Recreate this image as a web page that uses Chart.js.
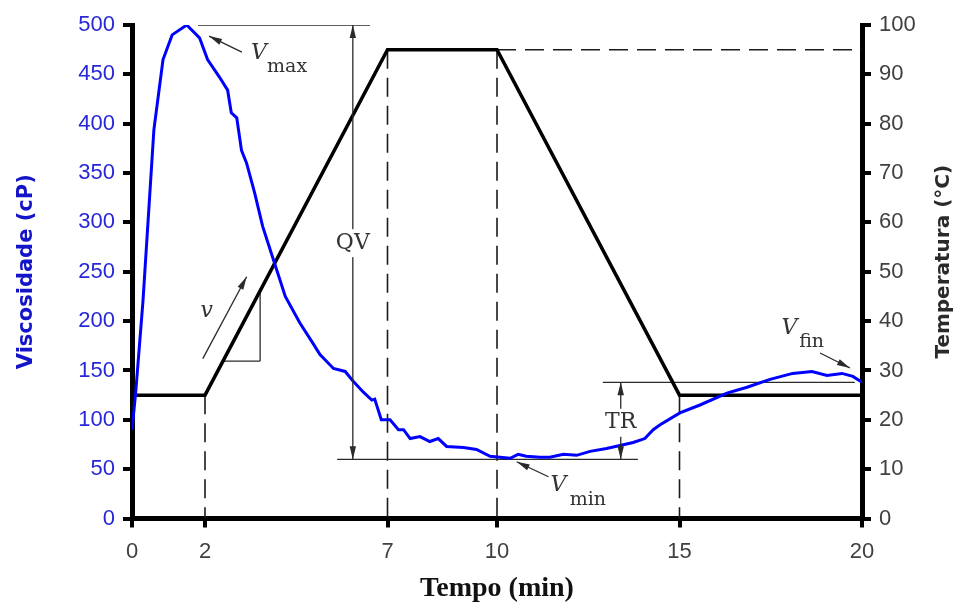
<!DOCTYPE html>
<html>
<head>
<meta charset="utf-8">
<script src="https://cdn.jsdelivr.net/npm/chart.js"></script>
<style>
html,body{margin:0;padding:0;background:#fff;}
canvas{display:block;}
</style>
</head>
<body>
<canvas id="grafico" width="962" height="606"></canvas>
<script>
// curva de viscosidade (cP)
const tempo = [0,0.1,0.3,0.6,0.85,1.1,1.5,1.85,2.07,2.4,2.62,2.72,2.87,3.0,3.14,3.36,3.58,3.85,4.2,4.6,4.95,5.15,5.52,5.84,6.06,6.34,6.57,6.65,6.83,7.07,7.3,7.44,7.62,7.89,8.16,8.39,8.62,9.08,9.44,9.81,10.08,10.36,10.58,10.8,11.18,11.45,11.82,12.18,12.55,13.0,13.37,13.73,14.05,14.28,14.47,15.01,15.56,16.3,16.85,17.48,18.1,18.63,19.04,19.45,19.75,20];
const viscosidade = [90,127,220,394,465,490,500,487,465,447,434,411,406,373,360,330,296,265,225,198,178,166,152,149,139,128,120,121,100,100,90,90,81,83,78,81,73,72,70,63,62,61,65,63,62,62,65,64,68,71,74,77,81,90,95,107,115,127,133,141,147,149,145,147,144,138];

// perfil de temperatura (C)
const tempoPerfil = [0,2,7,10,15,20];
const temperatura = [25,25,95,95,25,25];

const ticksTempo = [0,2,7,10,15,20];
const tituloTemp = 'Temperatura (°C)';

// linhas de referencia [x1,y1,x2,y2] em cP
const linhasFinas = [
  [1.81,500,6.52,500],
  [5.62,60,13.86,60],
  [12.9,138,19.8,138],
  [2.49,159.5,3.51,159.5],
  [3.51,159.5,3.51,230]
];
// linhas tracejadas [x1,y1,x2,y2] em C
const linhasTracejadas = [
  [2,25,2,0],
  [7,95,7,0],
  [10,95,10,0],
  [15,25,15,0],
  [10,95,20,95]
];
// setas simples [x0,y0,x1,y1], ponta em x1,y1
const setas = [
  [3.01,472.5,2.11,488.8],
  [11.41,42.3,10.54,57.5],
  [18.85,167.7,19.67,152.5],
  [1.94,162,3.14,245]
];
// setas duplas [x, yTopo, yBase]
const setasDuplas = [
  [6.05,500,60],
  [13.39,138,60]
];
const rotulos = [['QV',6.05,279],['TR',13.39,97]];
const rotulosV = [['max',3.48,471,4.25,457],['min',11.68,34,12.49,19],['fin',18.01,192.5,18.62,179]];
const rotuloVel = ['v',2.05,209.5];

function ponta(ctx,x0,y0,x1,y1){
  const a=Math.atan2(y1-y0,x1-x0), L=13, w=3.2;
  ctx.beginPath();
  ctx.moveTo(x1,y1);
  ctx.lineTo(x1-L*Math.cos(a)+w*Math.sin(a), y1-L*Math.sin(a)-w*Math.cos(a));
  ctx.lineTo(x1-L*Math.cos(a)-w*Math.sin(a), y1-L*Math.sin(a)+w*Math.cos(a));
  ctx.closePath();
  ctx.fill();
}

const anotacoes = {
  id:'anotacoes',
  afterDatasetsDraw(chart){
    const ctx=chart.ctx, sx=chart.scales.x, sy=chart.scales.y;
    const px=v=>sx.getPixelForValue(v), py=v=>sy.getPixelForValue(v);
    ctx.save();
    ctx.strokeStyle='#2a2a2a'; ctx.fillStyle='#2a2a2a'; ctx.lineWidth=1.3;
    setas.forEach(s=>{
      const x0=px(s[0]),y0=py(s[1]),x1=px(s[2]),y1=py(s[3]);
      ctx.beginPath(); ctx.moveTo(x0,y0); ctx.lineTo(x1,y1); ctx.stroke();
      ponta(ctx,x0,y0,x1,y1);
    });
    setasDuplas.forEach(s=>{
      const x=px(s[0]),y0=py(s[1]),y1=py(s[2]);
      ctx.beginPath(); ctx.moveTo(x,y0); ctx.lineTo(x,y1); ctx.stroke();
      ponta(ctx,x,y1,x,y0); ponta(ctx,x,y0,x,y1);
    });
    ctx.textAlign='center'; ctx.textBaseline='middle';
    ctx.font='22px "DejaVu Serif"';
    rotulos.forEach(r=>{
      const w=ctx.measureText(r[0]).width;
      ctx.fillStyle='#fff';
      ctx.fillRect(px(r[1])-w/2-2,py(r[2])-14,w+4,28);
      ctx.fillStyle='#333';
      ctx.fillText(r[0],px(r[1]),py(r[2]));
    });
    ctx.fillStyle='#333';
    rotulosV.forEach(r=>{
      ctx.font='italic 22px "DejaVu Serif"';
      ctx.fillText('V',px(r[1]),py(r[2]));
      ctx.font='19px "DejaVu Serif"';
      ctx.fillText(r[0],px(r[3]),py(r[4]));
    });
    ctx.font='italic 22px "DejaVu Serif"';
    ctx.fillText(rotuloVel[0],px(rotuloVel[1]),py(rotuloVel[2]));

    // titulo do eixo da direita, lido de baixo para cima
    const ca=chart.chartArea;
    ctx.translate(chart.width-18,(ca.top+ca.bottom)/2-10);
    ctx.rotate(-Math.PI/2);
    ctx.font='bold 20px "DejaVu Sans"';
    ctx.fillStyle='#2a2a2a';
    ctx.fillText(tituloTemp,0,0);
    ctx.restore();
  }
};

const pontos=(xs,ys)=>xs.map((v,i)=>({x:v,y:ys[i]}));
const segmento=l=>[{x:l[0],y:l[1]},{x:l[2],y:l[3]}];

const conjuntos=[
  {data:pontos(tempo,viscosidade),yAxisID:'y',borderColor:'#0000ff',borderWidth:3},
  {data:pontos(tempoPerfil,temperatura),yAxisID:'y2',borderColor:'#000',borderWidth:3.5}
];
linhasFinas.forEach(l=>conjuntos.push({data:segmento(l),yAxisID:'y',borderColor:'#2a2a2a',borderWidth:1.3}));
linhasTracejadas.forEach(l=>conjuntos.push({data:segmento(l),yAxisID:'y2',borderColor:'#1a1a1a',borderWidth:1.6,borderDash:[19,9]}));

const eixoGrid={drawOnChartArea:false,color:'#000',lineWidth:4,tickLength:9};
const eixoBorda={color:'#000',width:5};

new Chart(document.getElementById('grafico'),{
  type:'line',
  data:{datasets:conjuntos},
  options:{
    responsive:false,
    animation:false,
    devicePixelRatio:1,
    layout:{padding:{top:25,left:0,right:0,bottom:0}},
    elements:{point:{radius:0},line:{tension:0,fill:false,borderCapStyle:'butt'}},
    plugins:{legend:{display:false},tooltip:{enabled:false}},
    scales:{
      x:{
        type:'linear',min:0,max:20,
        afterBuildTicks:s=>{s.ticks=ticksTempo.map(v=>({value:v}));},
        afterFit:s=>{s.height=87.5;},
        grid:eixoGrid,border:eixoBorda,
        ticks:{color:'#404040',padding:11,font:{family:'Liberation Sans',size:22}},
        title:{display:true,text:'Tempo (min)',color:'#111',padding:{top:0,bottom:0},font:{family:'Liberation Serif',size:28,weight:'bold',lineHeight:1.2}}
      },
      y:{
        position:'left',min:0,max:500,
        afterFit:s=>{s.width=132;},
        grid:eixoGrid,border:eixoBorda,
        ticks:{stepSize:50,color:'#2828d8',padding:8,font:{family:'Liberation Sans',size:22}},
        title:{display:true,text:'Viscosidade (cP)',color:'#1414c8',padding:{top:14,bottom:0},font:{family:'DejaVu Sans',size:21,weight:'bold',lineHeight:1.2}}
      },
      y2:{
        position:'right',min:0,max:100,
        afterFit:s=>{s.width=100;},
        grid:eixoGrid,border:eixoBorda,
        ticks:{stepSize:10,color:'#404040',padding:8,font:{family:'Liberation Sans',size:22}},
        title:{display:false}
      }
    }
  },
  plugins:[anotacoes]
});
</script>
</body>
</html>
